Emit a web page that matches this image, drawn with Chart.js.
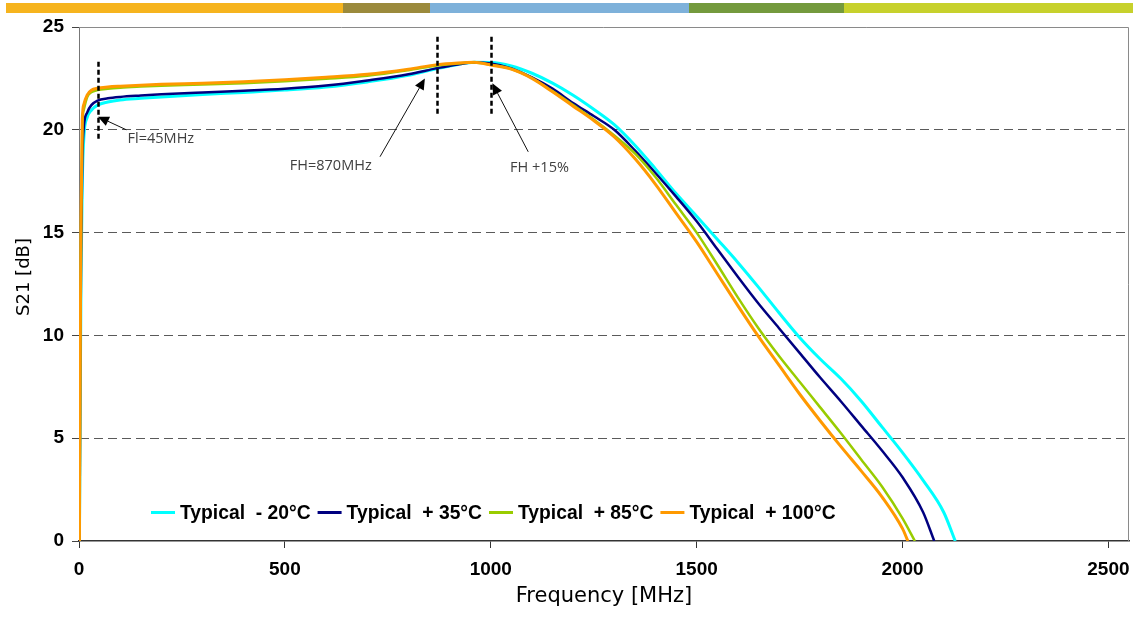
<!DOCTYPE html>
<html>
<head>
<meta charset="utf-8">
<title>S21 vs Frequency</title>
<script src="https://cdn.jsdelivr.net/npm/chart.js@4.4.1/dist/chart.umd.min.js"></script>
<style>
  html, body { margin: 0; padding: 0; background: #ffffff; }
  #wrap { position: relative; width: 1134px; height: 620px; overflow: hidden; }
  #band { position: absolute; left: 6px; top: 3px; height: 10px; display: flex; }
  #band div { height: 100%; }
  canvas { position: absolute; left: 0; top: 0; }
</style>
</head>
<body>
<div id="wrap">
  <canvas id="chart" width="1134" height="620"></canvas>
  <div id="band"></div>
</div>
<script>
// ---- measured S21 (dB) against frequency (MHz), one pair of arrays per temperature ----
const seriesLabels = ['Typical  - 20\u00B0C', 'Typical  + 35\u00B0C', 'Typical  + 85\u00B0C', 'Typical  + 100\u00B0C'];

const freqCold = [1, 2, 3, 5, 8, 12, 20, 30, 45, 70, 100, 150, 200, 300, 400, 500, 600, 700, 800, 870, 920, 960, 1000,
  1050, 1100, 1150, 1200, 1250, 1300, 1350, 1400, 1450, 1500, 1550, 1600, 1650, 1700, 1750, 1800, 1850, 1900, 1950,
  2000, 2050, 2100, 2128];
const s21Cold = [0, 3, 7, 13, 17.5, 19.7, 20.6, 20.95, 21.2, 21.35, 21.45, 21.53, 21.6, 21.72, 21.82, 21.93, 22.08, 22.33, 22.65, 22.98, 23.18, 23.28, 23.27,
  23.1, 22.75, 22.27, 21.68, 21.0, 20.25, 19.25, 18.1, 16.9, 15.8, 14.68, 13.55, 12.35, 11.1, 9.9, 8.85, 7.9, 6.8, 5.55,
  4.3, 2.95, 1.4, 0];

const freqRoom = [1, 2, 3, 5, 8, 12, 20, 30, 45, 70, 100, 150, 200, 300, 400, 500, 600, 700, 800, 870, 920, 960, 1000,
  1050, 1100, 1150, 1200, 1250, 1300, 1350, 1400, 1450, 1500, 1550, 1600, 1650, 1700, 1750, 1800, 1850, 1900, 1950,
  2000, 2050, 2077];
const s21Room = [0, 3.5, 8, 14, 18.5, 20.2, 20.85, 21.2, 21.42, 21.53, 21.6, 21.67, 21.73, 21.82, 21.9, 22.0, 22.15, 22.4, 22.7, 23.0, 23.18, 23.27, 23.22,
  22.99, 22.55, 22.0, 21.3, 20.67, 20.0, 19.0, 17.9, 16.75, 15.55, 14.2, 12.85, 11.55, 10.35, 9.15, 7.95, 6.8, 5.6, 4.4,
  3.1, 1.4, 0];

const freqHot = [1, 2, 3, 5, 8, 12, 20, 30, 45, 70, 100, 150, 200, 300, 400, 500, 600, 700, 800, 870, 920, 960, 1000,
  1050, 1100, 1150, 1200, 1250, 1300, 1350, 1400, 1450, 1500, 1550, 1600, 1650, 1700, 1750, 1800, 1850, 1900, 1950,
  2000, 2030];
const s21Hot = [0, 4, 9, 15.5, 20.2, 21.0, 21.6, 21.83, 21.93, 22.0, 22.05, 22.1, 22.14, 22.2, 22.27, 22.36, 22.48, 22.63, 22.9, 23.13, 23.23, 23.27, 23.16,
  22.96, 22.52, 21.88, 21.2, 20.5, 19.72, 18.85, 17.7, 16.35, 15.0, 13.45, 11.85, 10.35, 9.0, 7.75, 6.5, 5.25, 3.95, 2.65,
  1.1, 0];

const freqMax = [1, 2, 3, 5, 8, 12, 20, 30, 45, 70, 100, 150, 200, 300, 400, 500, 600, 700, 800, 870, 920, 960, 1000,
  1050, 1100, 1150, 1200, 1250, 1300, 1350, 1400, 1450, 1500, 1550, 1600, 1650, 1700, 1750, 1800, 1850, 1900, 1950,
  2000, 2013];
const s21Max = [0, 4.5, 9.5, 16, 20.5, 21.25, 21.7, 21.92, 22.02, 22.08, 22.12, 22.17, 22.21, 22.27, 22.34, 22.43, 22.55, 22.7, 22.95, 23.17, 23.25, 23.28, 23.15,
  22.95, 22.5, 21.85, 21.15, 20.45, 19.65, 18.6, 17.35, 15.95, 14.55, 13.0, 11.45, 9.95, 8.55, 7.15, 5.85, 4.6, 3.4, 2.15,
  0.6, 0];

// axis ticks
const xTickValues = [0, 500, 1000, 1500, 2000, 2500];   // MHz
const yTickValues = [0, 5, 10, 15, 20, 25];             // dB
const yTitle = 'S21 [dB]';

// frequency markers with their notes (x in MHz, y in dB)
const markerFreqs = [45, 870, 1000];
const noteTexts = ['Fl=45MHz', 'FH=870MHz', 'FH +15%'];

// ---- decorative band across the top of the page ----
const bandColors = ['#F6B41E', '#9B8A3C', '#7EB1DA', '#749A3D', '#C7D12C'];
const bandWidths = [337, 87, 259, 155, 289];
const band = document.getElementById('band');
bandColors.forEach((c, i) => {
  const d = document.createElement('div');
  d.style.background = c;
  d.style.width = bandWidths[i] + 'px';
  band.appendChild(d);
});

// ---- styling ----
const lineColors = ['#00FFFF', '#000080', '#99CC00', '#FF9900'];
const lineWidths = [3, 2.5, 2.5, 3];
const tickFont = { family: "'Liberation Sans', Arial, sans-serif", size: 19, weight: 'bold' };

const toPoints = (fs, vs) => fs.map((f, i) => ({ x: f, y: vs[i] }));
const seriesData = [
  toPoints(freqCold, s21Cold),
  toPoints(freqRoom, s21Room),
  toPoints(freqHot, s21Hot),
  toPoints(freqMax, s21Max)
];

const datasets = seriesData.map((pts, i) => ({
  label: seriesLabels[i],
  data: pts,
  borderColor: lineColors[i],
  backgroundColor: lineColors[i],
  borderWidth: lineWidths[i],
  pointRadius: 0,
  fill: false,
  cubicInterpolationMode: 'monotone',
  order: 3 - i   // hotter curves drawn on top
}));

// Marker lines, arrows and notes, placed in data units
const notesLayout = [
  { marker: { from: 19.42, to: 23.31 }, text: { x: 118, y: 19.55 }, tail: { x: 115, y: 20.0 }, head: { x: 46, y: 20.64 } },
  { marker: { from: 20.64, to: 24.53 }, text: { x: 512, y: 18.24 }, tail: { x: 731, y: 18.69 }, head: { x: 840, y: 22.5 } },
  { marker: { from: 20.64, to: 24.53 }, text: { x: 1047, y: 18.14 }, tail: { x: 1091, y: 18.93 }, head: { x: 1004, y: 22.26 } }
];

const framePlugin = {
  id: 'frame',
  beforeDatasetsDraw(chart) {
    const { ctx, chartArea: a } = chart;
    ctx.save();
    ctx.strokeStyle = '#8a8a8a';
    ctx.lineWidth = 1;
    ctx.beginPath();
    ctx.moveTo(a.left, a.top + 0.5);
    ctx.lineTo(a.right - 0.5, a.top + 0.5);
    ctx.lineTo(a.right - 0.5, a.bottom);
    ctx.stroke();
    // value-axis title, rotated, slightly above the axis centre
    ctx.translate(24, (a.top + a.bottom) / 2 - 7);
    ctx.rotate(-Math.PI / 2);
    ctx.fillStyle = '#000';
    ctx.font = "18px 'DejaVu Sans', sans-serif";
    ctx.textAlign = 'center';
    ctx.textBaseline = 'middle';
    ctx.fillText(yTitle, 0, 0);
    ctx.restore();
  }
};

function drawArrow(ctx, x1, y1, x2, y2) {
  const ang = Math.atan2(y2 - y1, x2 - x1);
  const len = 11, half = 5;
  const bx = x2 - len * Math.cos(ang), by = y2 - len * Math.sin(ang);
  ctx.beginPath();
  ctx.moveTo(x1, y1);
  ctx.lineTo(bx, by);
  ctx.stroke();
  ctx.beginPath();
  ctx.moveTo(x2, y2);
  ctx.lineTo(bx + half * Math.sin(ang), by - half * Math.cos(ang));
  ctx.lineTo(bx - half * Math.sin(ang), by + half * Math.cos(ang));
  ctx.closePath();
  ctx.fill();
}

const notesPlugin = {
  id: 'notes',
  afterDatasetsDraw(chart) {
    const { ctx, scales: { x, y } } = chart;
    ctx.save();
    markerFreqs.forEach((f, i) => {
      const L = notesLayout[i];
      const px = Math.round(x.getPixelForValue(f)) + 0.5;
      ctx.strokeStyle = '#000';
      ctx.lineWidth = 2.5;
      ctx.setLineDash([5, 3]);
      ctx.beginPath();
      ctx.moveTo(px, y.getPixelForValue(L.marker.to));
      ctx.lineTo(px, y.getPixelForValue(L.marker.from));
      ctx.stroke();
      ctx.setLineDash([]);
      ctx.lineWidth = 1;
      ctx.strokeStyle = '#111';
      ctx.fillStyle = '#000';
      drawArrow(ctx,
        x.getPixelForValue(L.tail.x), y.getPixelForValue(L.tail.y),
        x.getPixelForValue(L.head.x), y.getPixelForValue(L.head.y));
      ctx.fillStyle = '#404040';
      ctx.font = "14.5px 'Open Sans', 'Noto Sans', sans-serif";
      ctx.textAlign = 'left';
      ctx.textBaseline = 'middle';
      ctx.fillText(noteTexts[i], x.getPixelForValue(L.text.x), y.getPixelForValue(L.text.y));
    });
    ctx.restore();
  }
};

// Legend row drawn inside the plot, near the bottom
const legendPlugin = {
  id: 'innerLegend',
  afterDraw(chart) {
    const { ctx, chartArea: a } = chart;
    const ly = a.bottom - 28.5;
    let lx = a.left + 72;
    ctx.save();
    ctx.font = "bold 19.3px 'Liberation Sans', Arial, sans-serif";
    ctx.textBaseline = 'middle';
    ctx.textAlign = 'left';
    chart.data.datasets.forEach(ds => {
      ctx.strokeStyle = ds.borderColor;
      ctx.lineWidth = 3;
      ctx.beginPath();
      ctx.moveTo(lx, ly);
      ctx.lineTo(lx + 24, ly);
      ctx.stroke();
      lx += 29;
      ctx.fillStyle = '#000';
      ctx.fillText(ds.label, lx, ly + 1);
      lx += ctx.measureText(ds.label).width + 7;
    });
    ctx.restore();
  }
};

new Chart(document.getElementById('chart'), {
  type: 'line',
  data: { datasets },
  options: {
    responsive: false,
    animation: false,
    devicePixelRatio: 1,
    layout: { padding: { top: 27, right: 5, left: 0, bottom: 0 } },
    plugins: { legend: { display: false }, tooltip: { enabled: false } },
    elements: { point: { radius: 0 } },
    scales: {
      x: {
        type: 'linear',
        min: 0,
        max: 2550,
        afterBuildTicks(scale) { scale.ticks = xTickValues.map(v => ({ value: v })); },
        ticks: { font: tickFont, color: '#000', padding: 10, maxRotation: 0, callback: v => String(v) },
        grid: { drawOnChartArea: false, drawTicks: true, tickLength: 7, tickColor: '#333', color: '#333' },
        border: { color: '#333', width: 1.5 },
        title: { display: true, text: 'Frequency [MHz]', color: '#000',
                 font: { family: "'DejaVu Sans', sans-serif", size: 21 }, padding: { top: 0, bottom: 11 } },
        afterFit(scale) { scale.height = 79; scale.paddingLeft = 0; scale.paddingRight = 0; }
      },
      y: {
        type: 'linear',
        min: 0,
        max: 25,
        afterBuildTicks(scale) { scale.ticks = yTickValues.map(v => ({ value: v })); },
        ticks: { font: tickFont, color: '#000', padding: 8, callback: v => String(v) },
        grid: {
          color: c => (c.tick && (c.tick.value === 0 || c.tick.value === 25)) ? 'rgba(0,0,0,0)' : '#5a5a5a',
          tickColor: '#444',
          tickLength: 7,
          tickBorderDash: [],
          lineWidth: 1
        },
        border: { color: '#777', width: 1, dash: [9, 5] },
        title: { display: false },
        afterFit(scale) { scale.width = 79; }
      }
    }
  },
  plugins: [framePlugin, notesPlugin, legendPlugin]
});
</script>
</body>
</html>
